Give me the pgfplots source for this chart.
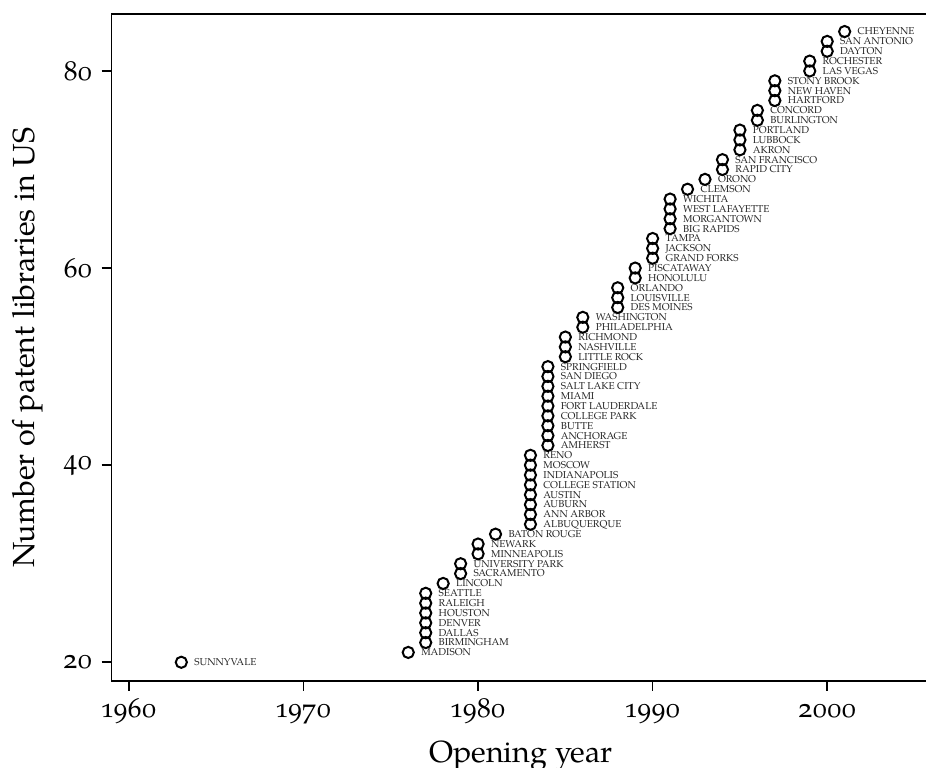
\documentclass[border=0pt]{standalone}
\usepackage{fontspec}
\setmainfont{TeX Gyre Pagella}[Numbers=OldStyle]
\usepackage{pgfplots}
\usepackage{pgfplotstable}
\pgfplotsset{compat=1.18}

% Patent and trademark depository libraries, by opening year
\pgfplotstableread[col sep=comma]{
year,n,name
1963,20,SUNNYVALE
1976,21,MADISON
1977,22,BIRMINGHAM
1977,23,DALLAS
1977,24,DENVER
1977,25,HOUSTON
1977,26,RALEIGH
1977,27,SEATTLE
1978,28,LINCOLN
1979,29,SACRAMENTO
1979,30,UNIVERSITY PARK
1980,31,MINNEAPOLIS
1980,32,NEWARK
1981,33,BATON ROUGE
1983,34,ALBUQUERQUE
1983,35,ANN ARBOR
1983,36,AUBURN
1983,37,AUSTIN
1983,38,COLLEGE STATION
1983,39,INDIANAPOLIS
1983,40,MOSCOW
1983,41,RENO
1984,42,AMHERST
1984,43,ANCHORAGE
1984,44,BUTTE
1984,45,COLLEGE PARK
1984,46,FORT LAUDERDALE
1984,47,MIAMI
1984,48,SALT LAKE CITY
1984,49,SAN DIEGO
1984,50,SPRINGFIELD
1985,51,LITTLE ROCK
1985,52,NASHVILLE
1985,53,RICHMOND
1986,54,PHILADELPHIA
1986,55,WASHINGTON
1988,56,DES MOINES
1988,57,LOUISVILLE
1988,58,ORLANDO
1989,59,HONOLULU
1989,60,PISCATAWAY
1990,61,GRAND FORKS
1990,62,JACKSON
1990,63,TAMPA
1991,64,BIG RAPIDS
1991,65,MORGANTOWN
1991,66,WEST LAFAYETTE
1991,67,WICHITA
1992,68,CLEMSON
1993,69,ORONO
1994,70,RAPID CITY
1994,71,SAN FRANCISCO
1995,72,AKRON
1995,73,LUBBOCK
1995,74,PORTLAND
1996,75,BURLINGTON
1996,76,CONCORD
1997,77,HARTFORD
1997,78,NEW HAVEN
1997,79,STONY BROOK
1999,80,LAS VEGAS
1999,81,ROCHESTER
2000,82,DAYTON
2000,83,SAN ANTONIO
2001,84,CHEYENNE
}\libs

\begin{document}
\begin{tikzpicture}
\begin{axis}[
  name=ax,
  scale only axis,
  width=814.5pt, height=667pt,
  xmin=1959, xmax=2005.66,
  ymin=18.1, ymax=85.78,
  axis x line=box, axis y line=left,
  every outer x axis line/.style={-},
  every outer y axis line/.style={-},
  every inner x axis line/.style={-},
  every inner y axis line/.style={-},
  axis line style={-, line width=1.6pt, black},
  xtick={1960,1970,1980,1990,2000},
  ytick={20,40,60,80},
  xtick pos=bottom, ytick pos=left,
  tick align=outside,
  major tick length=10pt,
  every tick/.style={black, line width=1.6pt},
  /pgf/number format/assume math mode=true,
  /pgf/number format/1000 sep={},
  tick label style={font=\fontsize{27.5}{33}\selectfont},
  xticklabel style={anchor=base, inner sep=0pt, yshift=-27pt},
  yticklabel style={anchor=east, inner sep=0pt, xshift=-9pt},
  xlabel={Opening year},
  ylabel={Number of patent libraries in US},
  every axis x label/.style={at={(axis description cs:0.5028,0)}, anchor=base, yshift=-81pt, font=\fontsize{30.5}{36}\selectfont},
  every axis y label/.style={at={(axis description cs:0,0.5)}, xshift=-76.5pt, rotate=90, anchor=base, font=\fontsize{30.5}{36}\selectfont},
  clip=false,
]
\addplot[
  only marks,
  mark=o,
  mark size=5.6pt,
  mark options={line width=2pt, black},
  point meta=explicit symbolic,
  nodes near coords,
  every node near coord/.style={anchor=west, inner sep=0pt, xshift=12pt,
    text height=0.68em, text depth=0pt,
    font=\fontsize{10}{12}\selectfont, text=black!85},
] table[x=year, y=n, meta=name] {\libs};
\end{axis}
\pgfresetboundingbox
\path[use as bounding box] ([shift={(-111.5pt,-87pt)}]ax.south west) rectangle ([shift={(0pt,14pt)}]ax.north east);
\end{tikzpicture}
\end{document}
